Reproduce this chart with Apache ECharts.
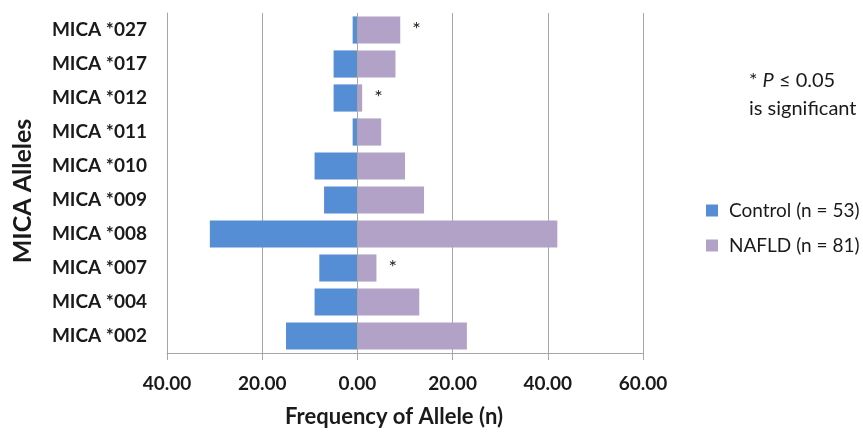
<!DOCTYPE html>
<html>
<head>
<meta charset="utf-8">
<script src="https://cdn.jsdelivr.net/npm/echarts@6/dist/echarts.min.js"></script>
<style>
  html, body { margin: 0; padding: 0; background: #fff; }
  #chart { width: 863px; height: 432px; }
</style>
</head>
<body>
<div id="chart"></div>
<script>
// alleles, top to bottom
var alleles = ['MICA *027', 'MICA *017', 'MICA *012', 'MICA *011', 'MICA *010',
               'MICA *009', 'MICA *008', 'MICA *007', 'MICA *004', 'MICA *002'];
// control is drawn to the left, so negative
var control = [-1, -5, -5, -1, -9, -7, -31, -8, -9, -15];
var nafld = [9, 8, 1, 5, 10, 14, 42, 4, 13, 23];
// alleles marked with * (P <= 0.05)
var significant = ['MICA *027', 'MICA *012', 'MICA *007'];
var xTicks = [-40, -20, 0, 20, 40, 60];

var font = 'Lato, "Open Sans", sans-serif';
var gridColor = '#a6a6a6';

var myChart = echarts.init(document.getElementById('chart'));
myChart.setOption({
    animation: false,
    textStyle: { fontFamily: font },
    color: ['#558ed5', '#b3a2c7'],
    grid: { left: 167, right: 220, top: 13, bottom: 79, outerBoundsMode: 'none' },
    legend: {
        orient: 'vertical',
        left: 701,
        top: 196,
        itemWidth: 12,
        itemHeight: 12,
        itemGap: 16,
        icon: 'rect',
        textStyle: { fontSize: 19, color: '#1a1a1a', fontFamily: font, padding: [0, 0, 0, 6] },
        data: ['Control (n = 53)', 'NAFLD (n = 81)']
    },
    xAxis: {
        type: 'value',
        min: xTicks[0],
        max: xTicks[xTicks.length - 1],
        interval: 20,
        name: 'Frequency of Allele (n)',
        nameLocation: 'middle',
        nameGap: 53,
        nameTextStyle: { fontSize: 22, fontWeight: 'bold', color: '#1a1a1a', fontFamily: font, padding: [0, 22, 0, 0] },
        axisLine: { show: true, lineStyle: { color: gridColor } },
        axisTick: { show: true, length: 7, lineStyle: { color: gridColor } },
        axisLabel: {
            margin: 21,
            fontSize: 19,
            fontWeight: 'bold',
            color: '#1a1a1a',
            formatter: function (v) { return Math.abs(v).toFixed(2); }
        },
        splitLine: { show: true, lineStyle: { color: gridColor } }
    },
    yAxis: {
        type: 'category',
        data: alleles,
        inverse: true,
        name: 'MICA Alleles',
        nameLocation: 'middle',
        nameGap: 132,
        nameTextStyle: { fontSize: 25, fontWeight: 'bold', color: '#1a1a1a', fontFamily: font, padding: [0, 16, 0, 0] },
        axisLine: { show: true, onZero: false, lineStyle: { color: gridColor } },
        axisTick: { show: false },
        axisLabel: { margin: 20, fontSize: 19, fontWeight: 'bold', color: '#1a1a1a' }
    },
    series: [
        {
            name: 'Control (n = 53)',
            type: 'bar',
            data: control,
            barCategoryGap: '20%',
            barGap: '-100%',
            markLine: {
                silent: true,
                symbol: 'none',
                label: { show: false },
                lineStyle: { color: gridColor, type: 'solid', width: 1 },
                data: [{ xAxis: 0 }]
            }
        },
        {
            name: 'NAFLD (n = 81)',
            type: 'bar',
            data: nafld,
            barCategoryGap: '20%',
            barGap: '-100%',
            label: {
                show: true,
                position: 'right',
                distance: 12,
                fontSize: 20,
                color: '#222',
                formatter: function (p) {
                    return significant.indexOf(p.name) >= 0 ? '*' : '';
                }
            }
        }
    ],
    graphic: [
        {
            type: 'text',
            left: 749,
            top: 71,
            style: {
                text: '* {i|P} ≤ 0.05',
                font: '20px ' + font,
                fill: '#1a1a1a',
                rich: { i: { fontStyle: 'italic', fontSize: 20, fontFamily: font, fill: '#1a1a1a' } }
            }
        },
        {
            type: 'text',
            left: 749,
            top: 99,
            style: { text: 'is significant', font: '20px ' + font, fill: '#1a1a1a' }
        }
    ]
});
window.onresize = function () {
    myChart.resize();
};
</script>
</body>
</html>
